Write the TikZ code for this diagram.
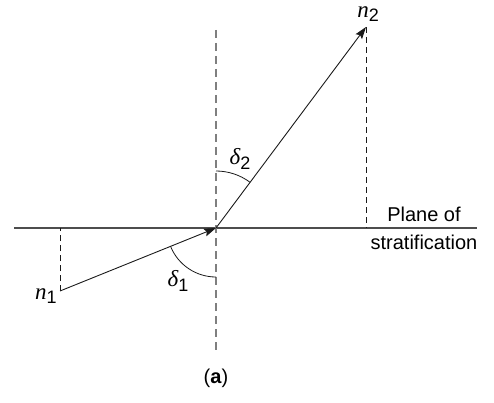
\documentclass[tikz,border=0pt]{standalone}
\usepackage{fontspec}
\setmainfont{Liberation Sans}
\newfontfamily\seriffam{Liberation Serif}
\usetikzlibrary{arrows.meta,positioning,calc}
\definecolor{ink}{HTML}{1A1A1A}
\definecolor{planegray}{HTML}{4D4D4D}
\definecolor{normalgray}{HTML}{7F7F7F}
\newcommand{\symsub}[2]{{\seriffam\itshape\fontsize{23}{23}\selectfont #1}\raisebox{-0.45ex}{\fontsize{18}{18}\selectfont #2}}

\begin{document}
\begin{tikzpicture}[x=1pt,y=-1pt,font=\fontsize{20}{28}\selectfont]
\useasboundingbox (0,0) rectangle (494,403);
\coordinate (o) at (216,228);
\coordinate (p1) at (60,291);
\coordinate (p2) at (366,27);
\coordinate (f1) at (60,228);
\coordinate (f2) at (366,228);
\coordinate (pl) at (14,228);
\coordinate (pr) at (477,228);
\coordinate (nt) at (216,30);
\coordinate (nb) at (216,352);
\draw[planegray,line width=1.1pt] (pl)--(pr);
\draw[normalgray,line width=1.1pt,dash pattern=on 8pt off 5pt] (nt)--(nb);
\foreach \a/\b in {p1/f1,p2/f2}{\draw[ink,line width=0.9pt,dash pattern=on 6pt off 4pt] (\a)--(\b);}
\foreach \a/\b in {p1/o,o/p2}{\draw[ink,line width=0.9pt,-{Stealth[length=12pt,width=8pt,inset=2pt]}] (\a)--(\b);}
\draw[ink,line width=0.8pt] ($(o)+(158:49)$) arc[start angle=158,end angle=90,radius=49];
\draw[ink,line width=0.8pt] ($(o)+(-90:57)$) arc[start angle=-90,end angle=-53.3,radius=57];
\node (d1) at (178,281) {\symsub{δ}{1}};
\node (d2) at (240,159) {\symsub{δ}{2}};
\node (n1) at (46,296) {\symsub{n}{1}};
\node (n2) at (368,14) {\symsub{n}{2}};
\node[align=center] (plane) at (424,228) {Plane of\\stratification};
\node (cap) at (216,378) {(\textbf{a})};
\end{tikzpicture}
\end{document}
